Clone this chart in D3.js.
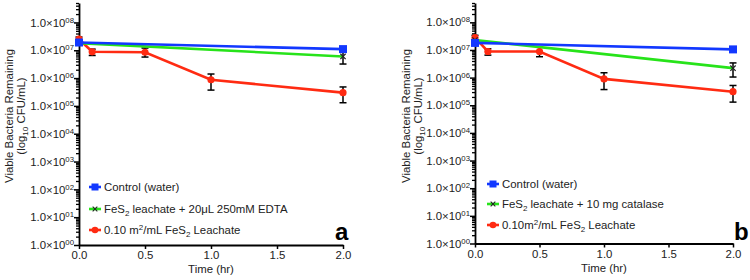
<!DOCTYPE html>
<html><head><meta charset="utf-8">
<script src="https://cdn.jsdelivr.net/npm/d3@7"></script>
<style>body{margin:0;background:#fff}svg{display:block;font-family:"Liberation Sans",Arial,sans-serif}</style>
</head><body><svg id="c" width="750" height="280"></svg>
<script>
// ---------- data ----------
const xTicks = [0, 0.5, 1.0, 1.5, 2.0];
const yMajor = [1e0,1e1,1e2,1e3,1e4,1e5,1e6,1e7,1e8];
const yExpLabels = ["00","01","02","03","04","05","06","07","08"];

const ctrlTimes = [0, 2.0];
const edtaTimes = [0, 2.0];
const leachTimes = [0, 0.1, 0.5, 1.0, 2.0];

// panel a
const ctrlA = [1.9e7, 1.1e7];
const edtaA = [1.8e7, 6.0e6];
const edtaA_lo = [null, 3.2e6];
const edtaA_hi = [null, 1.0e7];
const leachA = [2.5e7, 8.8e6, 8.5e6, 8.7e5, 3.0e5];
const leachA_lo = [1.9e7, 6.5e6, 5.7e6, 3.7e5, 1.3e5];
const leachA_hi = [3.0e7, 1.1e7, 1.2e7, 1.4e6, 4.8e5];

// panel b
const ctrlB = [1.8e7, 1.05e7];
const catB = [2.3e7, 2.2e6];
const catB_lo = [null, 1.05e6];
const catB_hi = [null, 3.4e6];
const leachB = [2.8e7, 8.8e6, 8.8e6, 9.0e5, 3.1e5];
const leachB_lo = [2.0e7, 6.5e6, 5.7e6, 3.7e5, 1.3e5];
const leachB_hi = [3.4e7, 1.1e7, 1.25e7, 1.5e6, 5.2e5];

// legend text segments: [text, mode] mode: n normal, sub subscript, sup superscript
const legendA = [
  [["Control (water)","n"]],
  [["FeS","n"],["2","sub"],[" leachate + 20\u03bcL 250mM EDTA","n"]],
  [["0.10 m","n"],["2","sup"],["/mL FeS","n"],["2","sub"],[" Leachate","n"]]
];
const legendB = [
  [["Control (water)","n"]],
  [["FeS","n"],["2","sub"],[" leachate + 10 mg catalase","n"]],
  [["0.10m","n"],["2","sup"],["/mL FeS","n"],["2","sub"],[" Leachate","n"]]
];

const BLUE = "#1238ff", GREEN = "#27e31a", RED = "#ff2b12";
const FS = "11.4px";

const svg = d3.select("#c");

function richText(sel, segs){
  let cur = 0;
  segs.forEach(([s,mode])=>{
    const target = mode==="sub" ? 3 : mode==="sup" ? -4 : 0;
    const ts = sel.append("tspan").attr("dy", target-cur).text(s);
    if(mode!=="n") ts.attr("font-size","8px");
    cur = target;
  });
}

function panel(o){
  const g = svg.append("g");
  const x = d3.scaleLinear().domain([0,2]).range([o.x0, o.x1]);
  const y = d3.scaleLog().domain([1, 5e8]).range([o.yb, 3]);

  // minor y ticks
  const minor = [];
  for(let d=0; d<=8; d++) for(let k=2;k<=9;k++){ const v=k*Math.pow(10,d); if(v<=5e8) minor.push(v); }
  g.append("g").attr("transform",`translate(${o.x0},0)`)
    .call(d3.axisLeft(y).tickValues(minor).tickSize(3).tickFormat(()=>""))
    .call(s=>{s.select(".domain").remove(); s.selectAll("line").attr("stroke","#000").attr("stroke-width",1.3);});

  const ya = g.append("g").attr("transform",`translate(${o.x0},0)`)
    .call(d3.axisLeft(y).tickValues(yMajor).tickSize(5).tickSizeOuter(0).tickPadding(3).tickFormat(()=>""));
  ya.select(".domain").attr("stroke","#000").attr("stroke-width",1.8);
  ya.selectAll("line").attr("stroke","#000").attr("stroke-width",1.5);
  ya.selectAll(".tick text").each(function(d,i){
    const t = d3.select(this).attr("font-size",FS).attr("fill","#222")
      .attr("font-family",'"Liberation Sans",Arial,sans-serif').attr("x",-5);
    t.append("tspan").text("1.0\u00d710");
    t.append("tspan").attr("font-size","7.8px").attr("dy",-4).text(yExpLabels[i]);
  });

  const xa = g.append("g").attr("transform",`translate(0,${o.yb})`)
    .call(d3.axisBottom(x).tickValues(xTicks).tickSize(4).tickSizeOuter(0).tickPadding(2).tickFormat(d3.format(".1f")));
  xa.select(".domain").attr("stroke","#000").attr("stroke-width",1.8);
  xa.selectAll("line").attr("stroke","#000").attr("stroke-width",1.5);
  xa.selectAll("text").attr("font-size",FS).attr("fill","#222").attr("font-family",'"Liberation Sans",Arial,sans-serif');

  // axis titles
  g.append("text").attr("x",(o.x0+o.x1)/2).attr("y",o.yb+28).attr("text-anchor","middle")
    .attr("font-size",FS).attr("fill","#222").text("Time (hr)");
  const yt = g.append("text").attr("transform",`translate(${o.tx},116) rotate(-90)`).attr("text-anchor","middle")
    .attr("font-size",FS).attr("fill","#222");
  yt.append("tspan").attr("x",0).attr("dy",0).text("Viable Bacteria Remaining");
  yt.append("tspan").attr("x",0).attr("dy",12).text("(log");
  yt.append("tspan").attr("font-size","8px").attr("dy",3).text("10");
  yt.append("tspan").attr("dy",-3).text(" CFU/mL)");

  // error bars
  function ebars(times, lo, hi){
    times.forEach((t,i)=>{
      if(lo[i]==null) return;
      const cx = x(t);
      g.append("line").attr("x1",cx).attr("x2",cx).attr("y1",y(lo[i])).attr("y2",y(hi[i])).attr("stroke","#000").attr("stroke-width",1.5);
      [lo[i],hi[i]].forEach(v=>g.append("line").attr("x1",cx-3.5).attr("x2",cx+3.5).attr("y1",y(v)).attr("y2",y(v)).attr("stroke","#000").attr("stroke-width",1.5));
    });
  }
  ebars(leachTimes, o.leachLo, o.leachHi);
  ebars(edtaTimes, o.midLo, o.midHi);

  const line = d3.line().x(d=>x(d[0])).y(d=>y(d[1]));
  const lp = (t,v)=>t.map((tt,i)=>[tt,v[i]]);
  g.append("path").attr("d",line(lp(leachTimes,o.leach))).attr("fill","none").attr("stroke",RED).attr("stroke-width",2.6);
  g.append("path").attr("d",line(lp(edtaTimes,o.mid))).attr("fill","none").attr("stroke",GREEN).attr("stroke-width",2.6);
  g.append("path").attr("d",line(lp(ctrlTimes,o.ctrl))).attr("fill","none").attr("stroke",BLUE).attr("stroke-width",2.6);

  // markers
  leachTimes.forEach((t,i)=>g.append("circle").attr("cx",x(t)).attr("cy",y(o.leach[i])).attr("r",3.6).attr("fill",RED));
  edtaTimes.forEach((t,i)=>g.append("path").attr("d",d3.symbol().type(d3.symbolTimes).size(20)()).attr("transform",`translate(${x(t)},${y(o.mid[i])})`).attr("stroke","#222").attr("stroke-width",1.2));
  ctrlTimes.forEach((t,i)=>g.append("rect").attr("x",x(t)-4).attr("y",y(o.ctrl[i])-4).attr("width",8).attr("height",8).attr("fill",BLUE));

  // legend
  const cols = [BLUE, GREEN, RED];
  o.legend.forEach((segs,i)=>{
    const ly = o.ly[i];
    const lg = g.append("g");
    lg.append("line").attr("x1",o.lx-6).attr("x2",o.lx+6).attr("y1",ly).attr("y2",ly).attr("stroke",cols[i]).attr("stroke-width",2.6);
    if(i==0) lg.append("rect").attr("x",o.lx-3.5).attr("y",ly-3.5).attr("width",7).attr("height",7).attr("fill",BLUE);
    if(i==1) lg.append("path").attr("d",d3.symbol().type(d3.symbolTimes).size(16)()).attr("transform",`translate(${o.lx},${ly})`).attr("stroke","#222").attr("stroke-width",1.1);
    if(i==2) lg.append("circle").attr("cx",o.lx).attr("cy",ly).attr("r",3.3).attr("fill",RED);
    const t = lg.append("text").attr("x",o.lx+9).attr("y",ly+4).attr("font-size",FS).attr("fill","#222");
    richText(t, segs);
  });

  g.append("text").attr("x",o.labX).attr("y",240).attr("font-size","24px").attr("font-weight","bold")
    .attr("font-family",'"Liberation Sans",Arial,sans-serif').attr("fill","#000").text(o.label);
}

panel({x0:79, x1:343, yb:245, tx:13, ctrl:ctrlA, mid:edtaA, midLo:edtaA_lo, midHi:edtaA_hi,
  leach:leachA, leachLo:leachA_lo, leachHi:leachA_hi, legend:legendA, lx:95, ly:[187,209,230], label:"a", labX:335});
panel({x0:475, x1:733, yb:243.5, tx:410, ctrl:ctrlB, mid:catB, midLo:catB_lo, midHi:catB_hi,
  leach:leachB, leachLo:leachB_lo, leachHi:leachB_hi, legend:legendB, lx:493, ly:[184,204,225], label:"b", labX:734});
</script></body></html>
